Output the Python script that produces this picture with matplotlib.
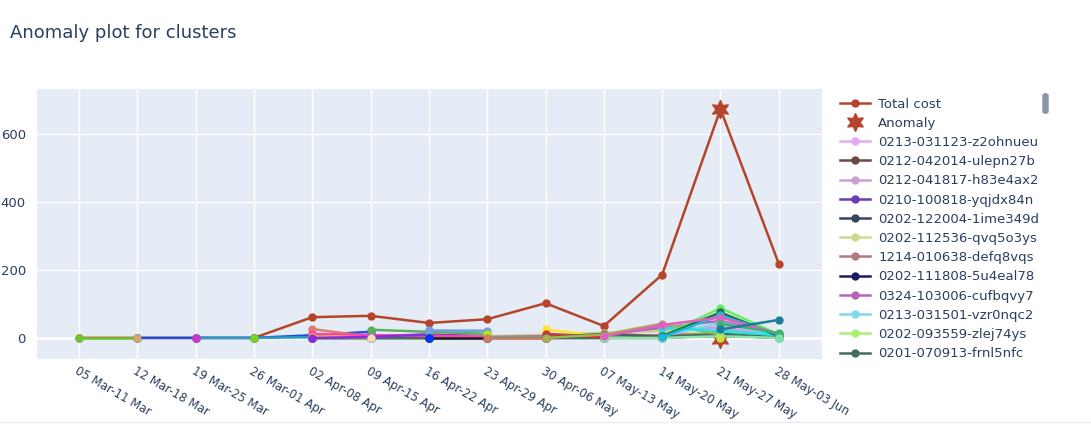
import numpy as np
import matplotlib.pyplot as plt
from matplotlib.lines import Line2D
from matplotlib.patches import FancyBboxPatch

nan = np.nan

weeks = ["05 Mar-11 Mar", "12 Mar-18 Mar", "19 Mar-25 Mar", "26 Mar-01 Apr",
         "02 Apr-08 Apr", "09 Apr-15 Apr", "16 Apr-22 Apr", "23 Apr-29 Apr",
         "30 Apr-06 May", "07 May-13 May", "14 May-20 May", "21 May-27 May",
         "28 May-03 Jun"]

total_cost = [0, 0, 0, 0, 61, 65, 44, 55, 102, 35, 186, 673, 218]

# anomaly points: (week index, value)
anomaly_idx = [11, 11]
anomaly_val = [673, -3]

# clusters shown in the legend
cluster_names = ["0213-031123-z2ohnueu", "0212-042014-ulepn27b", "0212-041817-h83e4ax2",
                 "0210-100818-yqjdx84n", "0202-122004-1ime349d", "0202-112536-qvq5o3ys",
                 "1214-010638-defq8vqs", "0202-111808-5u4eal78", "0324-103006-cufbqvy7",
                 "0213-031501-vzr0nqc2", "0202-093559-zlej74ys", "0201-070913-frnl5nfc"]
cluster_colors = ["#E6AAF5", "#6B4848", "#C9A0D2", "#6A3BB5", "#34475E", "#CADB8C",
                  "#B07A80", "#1A1A60", "#B565B5", "#7FD8F0", "#A8F070", "#456B60"]
cluster_vals = [
    [nan, nan, nan, nan, 0, 4, 6, 4, 3, 8, 22, 35, 8],
    [nan, nan, nan, nan, 0, 0, 0, 0, 0, 2, 5, 20, 3],
    [nan, nan, nan, nan, 2, 3, 3, 2, 4, 10, 25, 30, 5],
    [nan, nan, nan, nan, 0, 5, 10, 5, 3, 2, 3, 18, 6],
    [nan, nan, nan, nan, 0, 0, 0, 0, 0, 1, 2, 5, 2],
    [nan, nan, nan, nan, 3, 2, 2, 5, 10, 15, 20, 10, 4],
    [nan, nan, nan, nan, 0, 0, 0, 0, 2, 6, 8, 12, 3],
    [nan, nan, nan, nan, 0, 0, 0, 0, 0, 0, 0, 8, 0],
    [nan, nan, nan, nan, 0, 0, 2, 3, 5, 10, 30, 50, 10],
    [nan, nan, nan, nan, 0, 0, 0, 0, 0, 0, 5, 45, 8],
    [nan, nan, nan, nan, 0, 0, 0, 0, 0, 0, 0, 15, 0],
    [nan, nan, nan, nan, 0, 0, 0, 0, 0, 0, 3, 12, 2],
]

# remaining clusters (further down the scrolled legend)
extra_colors = ["#6CC62C", "#1F4FE0", "#D4A96A", "#2A9CC0", "#D633C6", "#7ED321",
                "#D9806A", "#FF3FB0", "#FFD700", "#8A2BE2", "#5DAE5D", "#F5DEB3",
                "#6FA0DC", "#222222", "#0033FF", "#B5E61D", "#CD7F60", "#FFE135",
                "#E03030", "#C0392B", "#4F5F5F", "#A8B050", "#22E5E5", "#8FE3A8",
                "#66EE66", "#1F6F3F", "#1CB5E0", "#E060C0", "#3CB371", "#1B7F9A",
                "#C8E040", "#7FE0B0"]
extra_vals = [
    [0, 0, nan, nan, nan, nan, nan, nan, nan, nan, nan, nan, nan],
    [nan, 0, 0, 0, 8, 18, nan, nan, nan, nan, nan, nan, nan],
    [nan, 0, nan, nan, nan, nan, nan, nan, nan, nan, nan, nan, nan],
    [nan, nan, 0, 0, 2, nan, nan, nan, nan, nan, nan, nan, nan],
    [nan, nan, 0, nan, nan, nan, nan, nan, nan, nan, nan, nan, nan],
    [nan, nan, nan, 0, nan, nan, nan, nan, nan, nan, nan, nan, nan],
    [nan, nan, nan, nan, 26, 4, nan, nan, nan, nan, nan, nan, nan],
    [nan, nan, nan, nan, 12, 8, 6, 4, nan, nan, nan, nan, nan],
    [nan, nan, nan, nan, 4, 2, nan, nan, nan, nan, nan, nan, nan],
    [nan, nan, nan, nan, 0, 3, 10, nan, nan, nan, nan, nan, nan],
    [nan, nan, nan, nan, nan, 24, 18, 12, nan, nan, nan, nan, nan],
    [nan, nan, nan, nan, nan, 0, nan, nan, nan, nan, nan, nan, nan],
    [nan, nan, nan, nan, nan, nan, 22, 21, nan, nan, nan, nan, nan],
    [nan, nan, nan, nan, nan, nan, 0, 0, nan, nan, nan, nan, nan],
    [nan, nan, nan, nan, nan, nan, 0, nan, nan, nan, nan, nan, nan],
    [nan, nan, nan, nan, nan, nan, nan, 12, nan, nan, nan, nan, nan],
    [nan, nan, nan, nan, nan, nan, nan, 0, 0, nan, nan, nan, nan],
    [nan, nan, nan, nan, nan, nan, nan, nan, 25, 5, nan, nan, nan],
    [nan, nan, nan, nan, nan, nan, nan, nan, 12, 2, nan, nan, nan],
    [nan, nan, nan, nan, nan, nan, nan, nan, 0, nan, nan, nan, nan],
    [nan, nan, nan, nan, nan, nan, nan, nan, 2, 12, 4, nan, nan],
    [nan, nan, nan, nan, nan, nan, nan, nan, 0, 10, 42, 10, nan],
    [nan, nan, nan, nan, nan, nan, nan, nan, nan, nan, 30, 20, 8],
    [nan, nan, nan, nan, nan, nan, nan, nan, nan, 0, 0, 5, 0],
    [nan, nan, nan, nan, nan, nan, nan, nan, nan, nan, 5, 88, 10],
    [nan, nan, nan, nan, nan, nan, nan, nan, nan, nan, 5, 75, 5],
    [nan, nan, nan, nan, nan, nan, nan, nan, nan, nan, 2, 66, 10],
    [nan, nan, nan, nan, nan, nan, nan, nan, nan, 5, 38, 60, 12],
    [nan, nan, nan, nan, nan, nan, nan, nan, nan, nan, nan, 42, 14],
    [nan, nan, nan, nan, nan, nan, nan, nan, nan, nan, nan, 25, 53],
    [nan, nan, nan, nan, nan, nan, nan, nan, nan, nan, nan, 0, nan],
    [nan, nan, nan, nan, nan, nan, nan, nan, nan, nan, nan, nan, 0],
]

cost_color = "#B5452A"
text_color = "#2A3F5F"

fig = plt.figure(figsize=(10.91, 4.25), dpi=100)
ax = fig.add_axes([0.0339, 0.1553, 0.7195, 0.6353])
ax.set_facecolor("#E5ECF6")
for s in ax.spines.values():
    s.set_visible(False)

x = np.arange(len(weeks))
ax.plot(x, total_cost, color=cost_color, lw=1.8, marker="o", ms=5, zorder=3)
ax.scatter(anomaly_idx, anomaly_val, marker=(6, 1, 0), s=170, color=cost_color, zorder=3.5)

z = 4
for vals, c in zip(cluster_vals + extra_vals, cluster_colors + extra_colors):
    ax.plot(x, vals, color=c, lw=1.8, marker="o", ms=5, zorder=z)
    z += 0.01

ax.set_xlim(-0.72, 12.74)
ax.set_ylim(-62, 732)
ax.set_yticks([0, 200, 400, 600])
ax.set_xticks(x)
ax.set_xticklabels(weeks, rotation=-30, ha="left", va="top", rotation_mode="anchor")
ax.grid(True, color="white", lw=1)
ax.axhline(0, color="white", lw=2, zorder=1)
ax.set_axisbelow(True)
ax.tick_params(length=0, labelsize=9.5, colors=text_color, pad=8)
ax.tick_params(axis="x", pad=4, labelsize=8.5)

fig.text(0.0092, 0.922, "Anomaly plot for clusters", fontsize=13, color=text_color, va="center")

handles = [Line2D([], [], color=cost_color, lw=1.8, marker="o", ms=5),
           Line2D([], [], color=cost_color, lw=0, marker=(6, 1, 0), ms=13)]
for c in cluster_colors:
    handles.append(Line2D([], [], color=c, lw=1.8, marker="o", ms=5))
labels = ["Total cost", "Anomaly"] + cluster_names
fig.legend(handles, labels, loc="upper left", bbox_to_anchor=(0.765, 0.783),
           frameon=False, fontsize=9.5, labelcolor=text_color, handlelength=2.3,
           handletextpad=0.6, labelspacing=0.47, borderaxespad=0)

fig.patches.append(FancyBboxPatch((1043 / 1091, 1 - 113 / 425), 5 / 1091, 19 / 425,
                                  boxstyle="round,pad=0,rounding_size=0.003",
                                  transform=fig.transFigure, color="#8A95AA"))
fig.add_artist(Line2D([0, 1], [1 - 422 / 425] * 2, transform=fig.transFigure,
                      color="#EBEBEB", lw=1))

fig.savefig("out.png", dpi=100)
